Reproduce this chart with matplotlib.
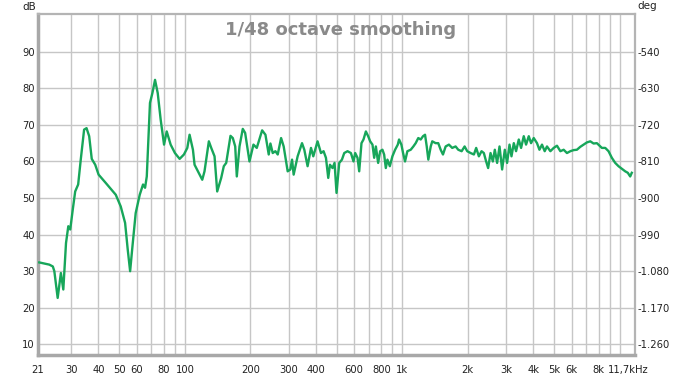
import matplotlib
matplotlib.use("Agg")
import matplotlib.pyplot as plt
import matplotlib.transforms as mtransforms
import numpy as np

# ---- data ----
freq_hz = [21.4, 23.8, 24.7, 25.1, 26.0, 26.9, 27.6, 28.4, 29.1, 29.7,
           30.5, 31.3, 32.3, 33.2, 34.4, 35.3, 36.3, 37.3, 38.7, 40.1,
           43.3, 48.1, 50.7, 53.1, 54.6, 56.0, 57.4, 59.4, 62.0, 64.2,
           65.6, 66.8, 69.1, 70.9, 72.9, 75.0, 77.4, 80.2, 82.5, 86.0,
           90.0, 94.6, 99.0, 102.6, 105.1, 108.9, 110.8, 114.8, 120.2, 123.1,
           128.9, 132.2, 136.9, 140.8, 146.9, 151.0, 154.9, 162.1, 166.1, 170.4,
           173.3, 178.3, 184.6, 189.3, 198.2, 206.7, 214.1, 226.6, 234.7, 243.0,
           247.4, 253.5, 260.8, 267.3, 277.0, 284.7, 297.0, 305.5, 311.1, 316.4,
           330.0, 345.7, 354.2, 366.7, 380.2, 389.5, 407.6, 422.5, 434.3, 445.4,
           456.4, 464.7, 477.6, 487.9, 498.2, 512.7, 527.6, 540.6, 559.7, 580.2,
           596.3, 607.1, 622.1, 633.4, 648.9, 662.8, 679.8, 696.5, 711.4, 729.0,
           742.2, 755.6, 774.1, 790.7, 810.1, 824.8, 839.5, 854.0, 875.9, 900.2,
           926.3, 953.1, 966.1, 990.0, 1008, 1029, 1055, 1093, 1124, 1152,
           1184, 1215, 1245, 1272, 1295, 1317, 1351, 1373, 1423, 1463,
           1501, 1538, 1582, 1638, 1696, 1758, 1808, 1874, 1934, 1988,
           2061, 2134, 2186, 2249, 2314, 2371, 2429, 2481, 2545, 2608,
           2663, 2729, 2799, 2877, 2960, 3033, 3111, 3177, 3256, 3335,
           3432, 3517, 3618, 3707, 3815, 3908, 4021, 4163, 4271, 4389,
           4516, 4627, 4796, 4967, 5143, 5331, 5520, 5716, 5925, 6135,
           6352, 6584, 6819, 7061, 7319, 7578, 7847, 8074, 8272, 8574,
           8878, 9193, 9529, 9867, 10218, 10593, 10887, 11167, 11357]
spl_db = [32.4, 31.8, 31.3, 30.0, 22.7, 29.5, 25.0, 37.7, 42.3, 41.4,
          46.8, 51.8, 53.7, 60.5, 68.7, 69.1, 66.9, 60.7, 59.1, 56.4,
          54.1, 50.9, 47.7, 43.2, 35.9, 30.0, 36.8, 45.9, 50.9, 53.7,
          52.8, 55.9, 76.0, 78.7, 82.3, 78.7, 71.4, 64.6, 68.2, 64.6,
          62.3, 60.7, 61.9, 63.7, 67.3, 63.2, 59.1, 57.3, 55.0, 57.3,
          65.5, 63.7, 61.4, 51.8, 55.5, 58.7, 59.6, 67.0, 66.4, 64.1,
          55.9, 64.1, 68.9, 67.8, 60.0, 64.6, 63.7, 68.5, 67.3, 61.9,
          64.9, 62.3, 62.8, 61.9, 66.4, 64.1, 57.3, 57.8, 60.5, 56.4,
          61.4, 65.0, 63.2, 58.7, 63.7, 61.4, 65.5, 62.3, 62.8, 61.0,
          55.5, 59.1, 58.2, 59.6, 51.4, 59.6, 60.5, 62.3, 62.8, 62.3,
          60.0, 62.3, 61.0, 57.3, 65.0, 66.0, 68.2, 66.9, 65.5, 64.6,
          61.0, 64.1, 59.6, 62.8, 63.2, 61.9, 58.2, 60.5, 58.7, 61.4,
          63.2, 64.6, 66.0, 64.6, 62.3, 60.0, 62.8, 63.2, 64.1, 65.0,
          66.4, 66.0, 66.9, 67.3, 64.1, 60.5, 64.1, 65.5, 65.0, 65.0,
          63.2, 61.9, 64.1, 64.6, 63.7, 64.1, 63.2, 62.8, 64.1, 62.8,
          62.3, 61.9, 63.7, 61.4, 62.8, 62.3, 60.0, 58.2, 62.3, 60.0,
          63.2, 59.6, 64.1, 57.8, 63.2, 59.6, 64.6, 61.4, 65.0, 62.8,
          66.0, 63.7, 66.9, 64.6, 66.9, 65.0, 66.4, 65.0, 63.2, 64.6,
          62.8, 64.1, 62.8, 63.7, 64.3, 62.8, 63.2, 62.3, 62.8, 63.1,
          63.2, 64.0, 64.6, 65.2, 65.5, 64.9, 65.0, 64.3, 63.7, 63.7,
          62.8, 61.0, 59.6, 58.7, 58.0, 57.3, 56.9, 55.9, 56.9]

x_tick_vals = [21, 30, 40, 50, 60, 80, 100, 200, 300, 400, 600, 800, 1000,
               2000, 3000, 4000, 5000, 6000, 8000, 11700]
x_tick_labels = ["21", "30", "40", "50", "60", "80", "100", "200", "300", "400",
                 "600", "800", "1k", "2k", "3k", "4k", "5k", "6k", "8k", "11,7kHz"]
x_grid_vals = [30, 40, 50, 60, 70, 80, 90, 100, 200, 300, 400, 500, 600, 700,
               800, 900, 1000, 2000, 3000, 4000, 5000, 6000, 7000, 8000, 9000, 10000]
db_ticks = [10, 20, 30, 40, 50, 60, 70, 80, 90]
deg_ticks = [-1260, -1170, -1080, -990, -900, -810, -720, -630, -540]
deg_labels = ["-1.260", "-1.170", "-1.080", "-990", "-900", "-810", "-720", "-630", "-540"]
title_text = "1/48 octave smoothing"

# ---- figure ----
W, H = 682, 377
fig = plt.figure(figsize=(W / 100, H / 100), dpi=100)
fig.patch.set_facecolor("white")
L, R, T, B = 37.5, 635, 14, 355
ax = fig.add_axes([L / W, 1 - B / H, (R - L) / W, (B - T) / H])

ax.set_xscale("log")
ax.set_xlim(21, 11750)
ylo, yhi = 7.1, 100.3
ax.set_ylim(ylo, yhi)

grid_c = "#c6c6c6"
for gx in x_grid_vals:
    ax.axvline(gx, color=grid_c, lw=1.0, zorder=1)
for gy in db_ticks:
    ax.axhline(gy, color=grid_c, lw=1.0, zorder=1)

ax.plot(freq_hz, spl_db, color="#17a65a", lw=1.7, zorder=3, solid_joinstyle="round")

ax.set_xticks(x_tick_vals)
ax.set_xticklabels(x_tick_labels)
ax.xaxis.set_minor_locator(matplotlib.ticker.NullLocator())
ax.set_yticks(db_ticks)
ax.set_yticklabels([str(v) for v in db_ticks])
ax.tick_params(axis="x", length=0, pad=7, labelsize=7.2, colors="#222222")
ax.tick_params(axis="y", length=0, pad=2, labelsize=7.2, colors="#222222")
for lbl in ax.get_xticklabels():
    if lbl.get_text().endswith("Hz"):
        lbl.set_transform(lbl.get_transform() +
                          mtransforms.ScaledTranslation(-6 / 100, 0, fig.dpi_scale_trans))

for side in ["left", "bottom"]:
    ax.spines[side].set_color("#a8a8a8")
    ax.spines[side].set_linewidth(2.5)
for side in ["top", "right"]:
    ax.spines[side].set_color("#b4b4b4")
    ax.spines[side].set_linewidth(1.6)

ax2 = ax.twinx()
ax2.set_ylim(9 * ylo - 1350, 9 * yhi - 1350)
ax2.set_yticks(deg_ticks)
ax2.set_yticklabels(deg_labels)
ax2.tick_params(axis="y", length=0, pad=2, labelsize=7.2, colors="#222222")
for s in ax2.spines.values():
    s.set_visible(False)

fig.text(29 / W, 1 - 7 / H, "dB", ha="center", va="center", fontsize=7.5, color="#222222")
fig.text(637 / W, 1 - 6 / H, "deg", ha="left", va="center", fontsize=7.5, color="#222222")
fig.text(341 / W, 1 - 30 / H, title_text, ha="center", va="center", fontsize=13,
         fontweight="bold", color="#8a8a8a")

fig.savefig("out.png", dpi=100, facecolor="white")
